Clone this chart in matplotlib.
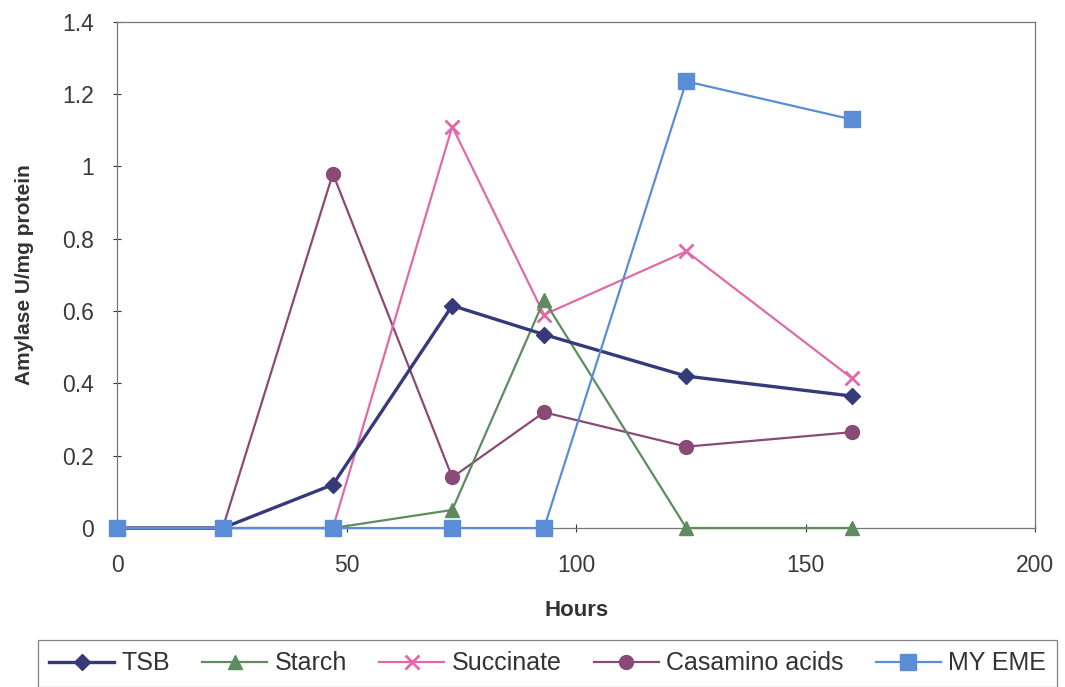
import matplotlib
matplotlib.use("Agg")
import matplotlib.pyplot as plt

plt.rcParams['font.family'] = ['Liberation Sans', 'DejaVu Sans']

# Sampling times (hours) and amylase activity per medium
hours = [0, 23, 47, 73, 93, 124, 160]
tsb = [0, 0, 0.12, 0.615, 0.535, 0.42, 0.365]
starch = [0, 0, 0, 0.05, 0.63, 0, 0]
succinate = [0, 0, 0, 1.11, 0.59, 0.765, 0.415]
casamino = [0, 0, 0.98, 0.14, 0.32, 0.225, 0.265]
myeme = [0, 0, 0, 0, 0, 1.235, 1.13]

series_names = ['TSB', 'Starch', 'Succinate', 'Casamino acids', 'MY EME']

fig = plt.figure(figsize=(10.65, 6.87), dpi=100)
ax = fig.add_axes([0.110, 0.2314, 0.862, 0.737])

ax.plot(hours, casamino, color='#8a4a76', lw=1.6, marker='o', ms=10,
        label=series_names[3], zorder=3, clip_on=False)
ax.plot(hours, succinate, color='#e06aa8', lw=1.6, marker='x', ms=10, mew=2,
        label=series_names[2], zorder=3, clip_on=False)
ax.plot(hours, starch, color='#5e8c5e', lw=1.6, marker='^', ms=10,
        label=series_names[1], zorder=4, clip_on=False)
ax.plot(hours, tsb, color='#363a78', lw=2.4, marker='D', ms=8,
        label=series_names[0], zorder=5, clip_on=False)
ax.plot(hours, myeme, color='#5b8dd6', lw=1.6, marker='s', ms=11,
        label=series_names[4], zorder=6, clip_on=False)

ax.set_xlim(0, 200)
ax.set_ylim(0, 1.4)
ax.set_xticks([0, 50, 100, 150, 200])
ax.set_yticks([0, 0.2, 0.4, 0.6, 0.8, 1, 1.2, 1.4])
ax.set_yticklabels(['0', '0.2', '0.4', '0.6', '0.8', '1', '1.2', '1.4'])
ax.tick_params(axis='both', labelsize=16.5, colors='#333333', length=6,
               width=0.8, direction='inout')
ax.tick_params(axis='x', pad=16)
ax.tick_params(axis='y', pad=14)
for sp in ax.spines.values():
    sp.set_color('#777777')
    sp.set_linewidth(0.9)
for lab in ax.get_xticklabels() + ax.get_yticklabels():
    lab.set_color('#3a3a3a')

ax.set_xlabel('Hours', fontsize=16, fontweight='bold', color='#333333',
              labelpad=16)
ax.set_ylabel('Amylase U/mg protein', fontsize=15, fontweight='bold',
              color='#333333', labelpad=20)

handles, labels = ax.get_legend_handles_labels()
order = [3, 2, 1, 0, 4]
handles = [handles[i] for i in order]
labels = [labels[i] for i in order]
leg = fig.legend(handles, labels, loc='upper left', ncol=5, mode='expand',
                 bbox_to_anchor=(0.0357, -0.2, 0.957, 0.2684), fontsize=18,
                 frameon=True, fancybox=False, edgecolor='#666666',
                 handlelength=2.6, columnspacing=0.6, handletextpad=0.3,
                 borderpad=0.45, borderaxespad=0)
leg.get_frame().set_linewidth(0.9)
for t in leg.get_texts():
    t.set_color('#333333')

fig.savefig('out.png', dpi=100)
